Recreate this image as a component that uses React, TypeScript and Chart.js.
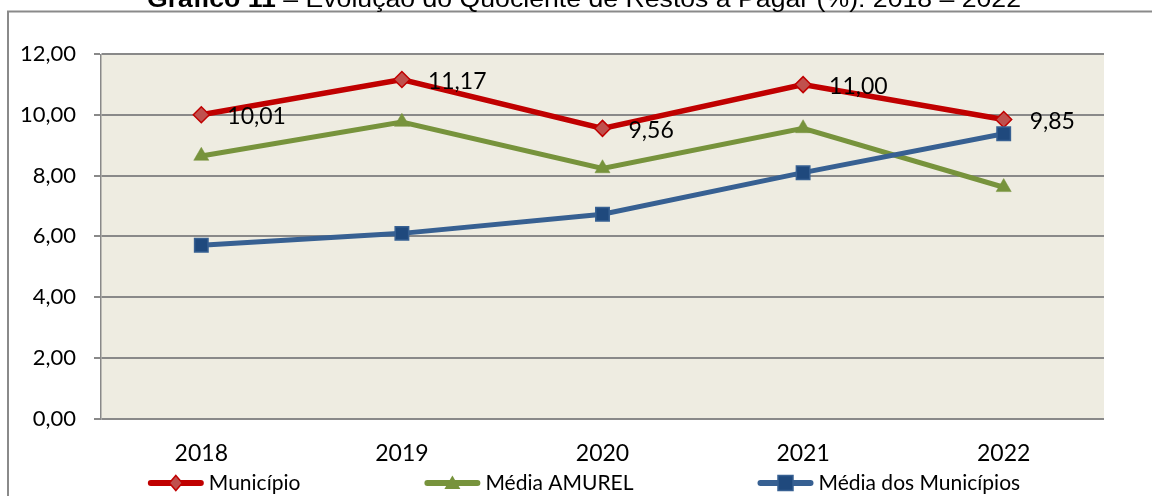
import React, { useEffect, useRef } from "react";
import { Chart, registerables } from "chart.js";

Chart.register(...registerables);

const categories = ["2018", "2019", "2020", "2021", "2022"];
const municipio = [10.01, 11.17, 9.56, 11.0, 9.85];
const mediaAmurel = [8.65, 9.77, 8.24, 9.56, 7.62];
const mediaMunicipios = [5.71, 6.1, 6.73, 8.1, 9.38];
const seriesNames = ["Município", "Média AMUREL", "Média dos Municípios"];
const titleBold = "Gráfico 11";
const titleRest = " – Evolução do Quociente de Restos a Pagar (%): 2018 – 2022";

const RED = "#C00000";
const RED_FILL = "#C0504D";
const GREEN = "#77933C";
const BLUE = "#376092";
const BLUE_FILL = "#1F497D";
const GRID = "#898989";
const FONT = "Lato, 'Open Sans', sans-serif";

const fmt = (v: number) => v.toFixed(2).replace(".", ",");

function drawMarker(ctx: CanvasRenderingContext2D, kind: string, x: number, y: number) {
  ctx.beginPath();
  if (kind === "diamond") {
    ctx.moveTo(x, y - 7.5);
    ctx.lineTo(x + 6.5, y);
    ctx.lineTo(x, y + 7.5);
    ctx.lineTo(x - 6.5, y);
    ctx.closePath();
    ctx.fillStyle = RED_FILL;
    ctx.fill();
    ctx.strokeStyle = RED;
    ctx.lineWidth = 1.5;
    ctx.stroke();
  } else if (kind === "triangle") {
    ctx.moveTo(x, y - 7.5);
    ctx.lineTo(x + 8, y + 6);
    ctx.lineTo(x - 8, y + 6);
    ctx.closePath();
    ctx.fillStyle = GREEN;
    ctx.fill();
  } else {
    ctx.rect(x - 7.5, y - 7.5, 15, 15);
    ctx.fillStyle = BLUE_FILL;
    ctx.fill();
    ctx.strokeStyle = BLUE;
    ctx.lineWidth = 1.5;
    ctx.stroke();
  }
}

const decorPlugin = {
  id: "decor",
  beforeDraw(chart: any) {
    const { ctx, chartArea } = chart;
    ctx.save();
    ctx.fillStyle = "#ffffff";
    ctx.fillRect(0, 0, chart.width, chart.height);
    ctx.fillStyle = "#EEECE1";
    ctx.fillRect(chartArea.left, chartArea.top, chartArea.right - chartArea.left, chartArea.bottom - chartArea.top);
    ctx.strokeStyle = "#8a8a8a";
    ctx.lineWidth = 2;
    ctx.strokeRect(8, 11.5, chart.width + 50, chart.height + 50);
    ctx.fillStyle = "#000";
    ctx.textBaseline = "alphabetic";
    ctx.textAlign = "left";
    ctx.font = "bold 23px 'Liberation Sans', Arial, sans-serif";
    const wb = ctx.measureText(titleBold).width;
    ctx.font = "23px 'Liberation Sans', Arial, sans-serif";
    const wr = ctx.measureText(titleRest).width;
    const sx = 874 / (wb + wr);
    ctx.translate(147, 7);
    ctx.scale(sx, 1);
    ctx.font = "bold 23px 'Liberation Sans', Arial, sans-serif";
    ctx.fillText(titleBold, 0, 0);
    ctx.font = "23px 'Liberation Sans', Arial, sans-serif";
    ctx.fillText(titleRest, wb, 0);
    ctx.restore();
  },
  afterDatasetsDraw(chart: any) {
    const { ctx } = chart;
    const idx = chart.data.datasets.findIndex((d: any) => d.label === seriesNames[0]);
    const meta = chart.getDatasetMeta(idx);
    ctx.save();
    ctx.font = `23px ${FONT}`;
    ctx.fillStyle = "#000";
    ctx.textAlign = "left";
    ctx.textBaseline = "middle";
    meta.data.forEach((pt: any, i: number) => {
      ctx.fillText(fmt(municipio[i]), pt.x + 26, pt.y + 2);
    });
    ctx.restore();
  },
  afterDraw(chart: any) {
    const { ctx } = chart;
    ctx.save();
    ctx.font = `21px ${FONT}`;
    const colors = [RED, GREEN, BLUE];
    const kinds = ["diamond", "triangle", "square"];
    const lineLen = 56;
    const gapText = 5;
    const gapItem = 124;
    const widths = seriesNames.map((n) => lineLen + gapText + ctx.measureText(n).width);
    const total = widths.reduce((a, b) => a + b, 0) + gapItem * (widths.length - 1);
    let x = 584 - total / 2;
    const y = 483;
    seriesNames.forEach((name, i) => {
      ctx.beginPath();
      ctx.strokeStyle = colors[i];
      ctx.lineWidth = 6;
      ctx.lineCap = "round";
      ctx.moveTo(x + 3, y);
      ctx.lineTo(x + lineLen - 3, y);
      ctx.stroke();
      ctx.lineCap = "butt";
      drawMarker(ctx, kinds[i], x + lineLen / 2, y);
      ctx.fillStyle = "#000";
      ctx.textAlign = "left";
      ctx.textBaseline = "middle";
      ctx.font = `21px ${FONT}`;
      ctx.fillText(name, x + lineLen + gapText, y);
      x += widths[i] + gapItem;
    });
    ctx.restore();
  },
};

export default function App() {
  const ref = useRef<HTMLCanvasElement | null>(null);
  useEffect(() => {
    document.body.style.margin = "0";
    document.body.style.overflow = "hidden";
    const canvas = ref.current!;
    const chart = new Chart(canvas, {
      type: "line",
      data: {
        labels: categories,
        datasets: [
          {
            label: seriesNames[0],
            data: municipio,
            borderColor: RED,
            borderWidth: 5.5,
            pointStyle: "rectRot",
            pointRadius: 8,
            pointBackgroundColor: RED_FILL,
            pointBorderColor: RED,
            pointBorderWidth: 1.5,
            tension: 0,
            order: 3,
          },
          {
            label: seriesNames[1],
            data: mediaAmurel,
            borderColor: GREEN,
            borderWidth: 5,
            pointStyle: "triangle",
            pointRadius: 8.7,
            pointBackgroundColor: GREEN,
            pointBorderColor: GREEN,
            pointBorderWidth: 0.5,
            tension: 0,
            order: 2,
          },
          {
            label: seriesNames[2],
            data: mediaMunicipios,
            borderColor: BLUE,
            borderWidth: 5,
            pointStyle: "rect",
            pointRadius: 9.5,
            pointBackgroundColor: BLUE_FILL,
            pointBorderColor: BLUE,
            pointBorderWidth: 1.5,
            tension: 0,
            order: 1,
          },
        ],
      },
      options: {
        responsive: false,
        animation: false,
        devicePixelRatio: 1,
        layout: { padding: { top: 54.3, right: 48, left: 0, bottom: 0 } },
        plugins: { legend: { display: false }, tooltip: { enabled: false }, title: { display: false } },
        scales: {
          x: {
            type: "category",
            offset: true,
            grid: { display: false, drawTicks: false },
            border: { display: false },
            ticks: { color: "#000", font: { family: FONT, size: 23 }, padding: 21, maxRotation: 0 },
            afterFit: (s: any) => {
              s.height = 77.5;
            },
          },
          y: {
            min: 0,
            max: 12,
            ticks: {
              stepSize: 2,
              color: "#000",
              font: { family: FONT, size: 22 },
              padding: 18,
              callback: (v: any) => fmt(Number(v)),
            },
            grid: { color: GRID, lineWidth: 2, tickLength: 7, drawTicks: true },
            border: { display: true, color: GRID, width: 1.5 },
            afterFit: (s: any) => {
              s.width = 101;
            },
          },
        },
      },
      plugins: [decorPlugin],
    } as any);
    return () => chart.destroy();
  }, []);
  return (
    <div style={{ position: "relative", width: 1152, height: 496 }}>
      <canvas ref={ref} width={1152} height={496} style={{ display: "block" }} />
    </div>
  );
}
